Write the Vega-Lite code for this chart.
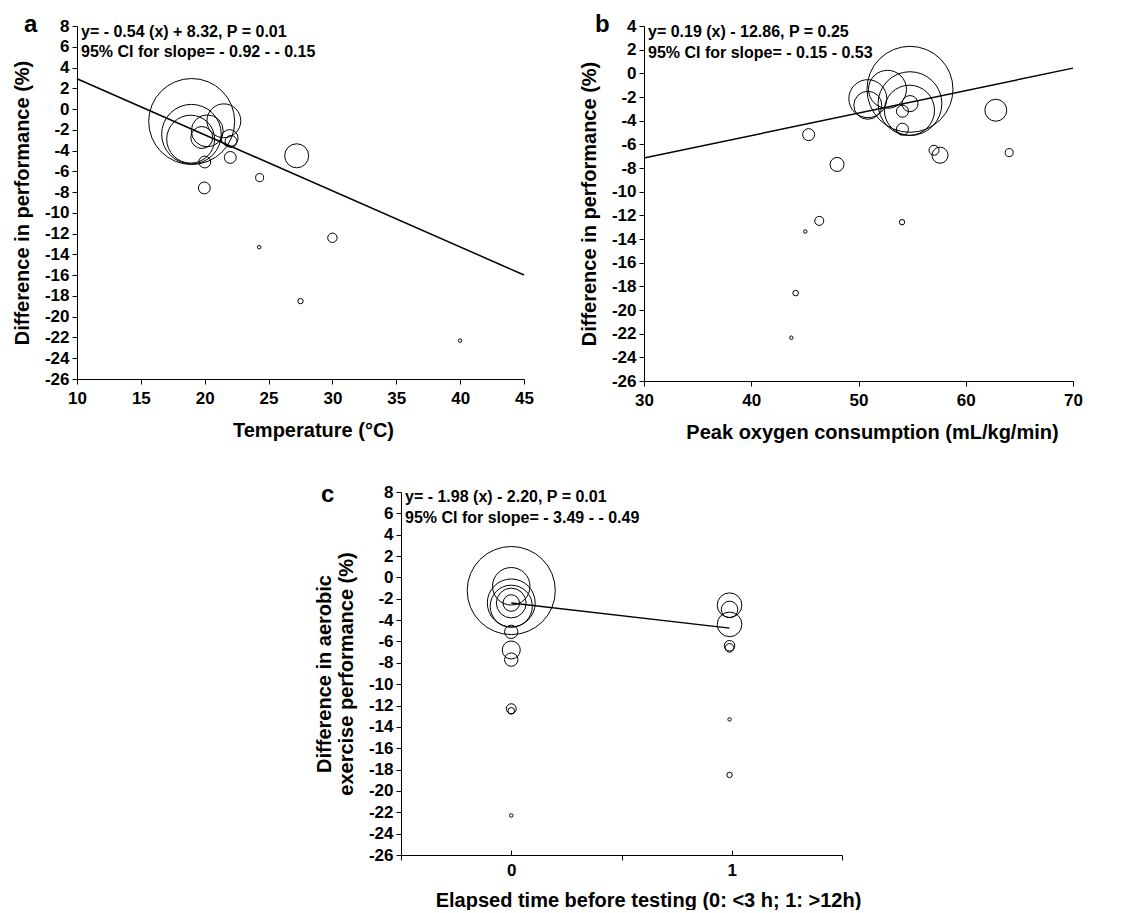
{
  "$schema": "https://vega.github.io/schema/vega-lite/v6.json",
  "background": "white",
  "padding": {"left": 12, "top": 13, "right": 5, "bottom": 0},
  "spacing": 41,
  "vconcat": [
    {
      "spacing": 45,
      "hconcat": [
        {
          "width": 447,
          "height": 353,
          "title": {"text": "a", "anchor": "start", "frame": "group", "dx": -53, "offset": -20, "fontSize": 24, "fontWeight": "bold", "font": "Liberation Sans", "color": "black"},
          "encoding": {
            "x": {"field": "x", "type": "quantitative", "scale": {"domain": [10, 45], "nice": false, "zero": false},
                  "axis": {"title": "Temperature (°C)", "values": [10, 15, 20, 25, 30, 35, 40, 45], "titleX": 236}},
            "y": {"field": "y", "type": "quantitative", "scale": {"domain": [-26, 8], "nice": false, "zero": false},
                  "axis": {"title": "Difference in performance (%)", "values": [-26, -24, -22, -20, -18, -16, -14, -12, -10, -8, -6, -4, -2, 0, 2, 4, 6, 8],
                           "labelExpr": "replace(datum.label, '−', '-')"}}
          },
          "layer": [
            {
              "data": {"values": [
                {"x": 18.98, "y": -1.2, "w": 100},
                {"x": 18.96, "y": -2.42, "w": 48},
                {"x": 18.9, "y": -2.9, "w": 31},
                {"x": 20.2, "y": -2.1, "w": 13.8},
                {"x": 19.77, "y": -2.74, "w": 6.5},
                {"x": 21.5, "y": -1.13, "w": 15.5},
                {"x": 21.95, "y": -2.8, "w": 3.9},
                {"x": 22.06, "y": -3.12, "w": 1.9},
                {"x": 20.0, "y": -5.1, "w": 1.9},
                {"x": 22.0, "y": -4.66, "w": 1.9},
                {"x": 27.2, "y": -4.5, "w": 7.8},
                {"x": 24.3, "y": -6.6, "w": 0.87},
                {"x": 19.97, "y": -7.6, "w": 1.9},
                {"x": 24.27, "y": -13.3, "w": 0.16},
                {"x": 30.0, "y": -12.4, "w": 1.2},
                {"x": 27.5, "y": -18.5, "w": 0.39},
                {"x": 40.0, "y": -22.3, "w": 0.16}
              ]},
              "mark": {"type": "point", "filled": false, "stroke": "black", "strokeWidth": 1, "opacity": 1},
              "encoding": {"size": {"field": "w", "type": "quantitative", "scale": {"domain": [0, 100], "range": [0, 7396]}, "legend": null}}
            },
            {
              "data": {"values": [{"x": 10, "y": 2.92}, {"x": 45, "y": -15.98}]},
              "mark": {"type": "line", "stroke": "black", "strokeWidth": 1.5},
              "encoding": {}
            },
            {
              "data": {"values": [
                {"x": 10, "y": 7.4, "label": "y= - 0.54 (x) + 8.32, P = 0.01"},
                {"x": 10, "y": 5.5, "label": "95% CI for slope= - 0.92 - - 0.15"}
              ]},
              "mark": {"type": "text", "align": "left", "baseline": "middle", "dx": 4, "fontSize": 16, "fontWeight": "bold", "font": "Liberation Sans", "color": "black"},
              "encoding": {"text": {"field": "label", "type": "nominal"}}
            }
          ]
        },
        {
          "width": 429,
          "height": 355,
          "title": {"text": "b", "anchor": "start", "frame": "group", "dx": -49, "offset": -20, "fontSize": 24, "fontWeight": "bold", "font": "Liberation Sans", "color": "black"},
          "encoding": {
            "x": {"field": "x", "type": "quantitative", "scale": {"domain": [30, 70], "nice": false, "zero": false},
                  "axis": {"title": "Peak oxygen consumption (mL/kg/min)", "values": [30, 40, 50, 60, 70], "titleX": 228}},
            "y": {"field": "y", "type": "quantitative", "scale": {"domain": [-26, 4], "nice": false, "zero": false},
                  "axis": {"title": "Difference in performance (%)", "values": [-26, -24, -22, -20, -18, -16, -14, -12, -10, -8, -6, -4, -2, 0, 2, 4],
                           "labelExpr": "replace(datum.label, '−', '-')"}}
          },
          "layer": [
            {
              "data": {"values": [
                {"x": 54.8, "y": -1.35, "w": 100},
                {"x": 52.7, "y": -1.35, "w": 19.5},
                {"x": 54.8, "y": -2.56, "w": 55},
                {"x": 54.75, "y": -3.12, "w": 34},
                {"x": 54.8, "y": -2.56, "w": 3.5},
                {"x": 54.1, "y": -3.2, "w": 1.95},
                {"x": 54.1, "y": -4.72, "w": 1.95},
                {"x": 50.87, "y": -2.14, "w": 19.5},
                {"x": 50.87, "y": -2.7, "w": 10.6},
                {"x": 62.8, "y": -3.12, "w": 6.5},
                {"x": 45.35, "y": -5.18, "w": 1.95},
                {"x": 57.04, "y": -6.5, "w": 1.35},
                {"x": 57.6, "y": -6.92, "w": 3.5},
                {"x": 64.05, "y": -6.7, "w": 0.87},
                {"x": 48.0, "y": -7.7, "w": 2.65},
                {"x": 46.34, "y": -12.47, "w": 1.1},
                {"x": 54.06, "y": -12.58, "w": 0.39},
                {"x": 45.04, "y": -13.37, "w": 0.16},
                {"x": 44.14, "y": -18.57, "w": 0.42},
                {"x": 43.74, "y": -22.34, "w": 0.16}
              ]},
              "mark": {"type": "point", "filled": false, "stroke": "black", "strokeWidth": 1, "opacity": 1},
              "encoding": {"size": {"field": "w", "type": "quantitative", "scale": {"domain": [0, 100], "range": [0, 7396]}, "legend": null}}
            },
            {
              "data": {"values": [{"x": 30, "y": -7.16}, {"x": 70, "y": 0.44}]},
              "mark": {"type": "line", "stroke": "black", "strokeWidth": 1.5},
              "encoding": {}
            },
            {
              "data": {"values": [
                {"x": 30, "y": 3.5, "label": "y= 0.19 (x) - 12.86, P = 0.25"},
                {"x": 30, "y": 1.75, "label": "95% CI for slope= - 0.15 - 0.53"}
              ]},
              "mark": {"type": "text", "align": "left", "baseline": "middle", "dx": 4, "fontSize": 16, "fontWeight": "bold", "font": "Liberation Sans", "color": "black"},
              "encoding": {"text": {"field": "label", "type": "nominal"}}
            }
          ]
        }
      ]
    },
    {
      "spacing": 0,
      "hconcat": [
        {
          "width": 237,
          "height": 10,
          "data": {"values": []},
          "mark": "point",
          "encoding": {}
        },
        {
          "width": 441,
          "height": 363,
          "title": {"text": "c", "anchor": "start", "frame": "group", "dx": -80, "offset": -24, "fontSize": 24, "fontWeight": "bold", "font": "Liberation Sans", "color": "black"},
          "encoding": {
            "x": {"field": "x", "type": "quantitative", "scale": {"domain": [-0.5, 1.5], "nice": false, "zero": false},
                  "axis": {"title": "Elapsed time before testing  (0: <3 h; 1: >12h)", "values": [-0.5, 0, 0.5, 1, 1.5],
                           "labelExpr": "(datum.value === 0 || datum.value === 1) ? format(datum.value, 'd') : ''",
                           "tickSize": {"condition": {"test": "datum.value === 0 || datum.value === 1", "value": -5}, "value": 5},
                           "labelPadding": 12, "titlePadding": 2, "titleX": 247}},
            "y": {"field": "y", "type": "quantitative", "scale": {"domain": [-26, 8], "nice": false, "zero": false},
                  "axis": {"title": ["Difference in aerobic", "exercise performance (%)"], "values": [-26, -24, -22, -20, -18, -16, -14, -12, -10, -8, -6, -4, -2, 0, 2, 4, 6, 8],
                           "labelExpr": "replace(datum.label, '−', '-')"}}
          },
          "layer": [
            {
              "data": {"values": [
                {"x": 0, "y": -1.23, "w": 105},
                {"x": 0, "y": -0.83, "w": 19},
                {"x": 0, "y": -2.39, "w": 31},
                {"x": 0, "y": -2.7, "w": 24},
                {"x": 0, "y": -2.4, "w": 12},
                {"x": 0, "y": -2.4, "w": 3.7},
                {"x": 0, "y": -5.1, "w": 2.4},
                {"x": 0, "y": -6.8, "w": 4.4},
                {"x": 0, "y": -7.7, "w": 2.4},
                {"x": 0, "y": -12.3, "w": 1.35},
                {"x": 0, "y": -12.5, "w": 0.6},
                {"x": 0, "y": -22.3, "w": 0.16},
                {"x": 0.99, "y": -2.6, "w": 8.2},
                {"x": 0.99, "y": -3.0, "w": 3.7},
                {"x": 0.99, "y": -4.4, "w": 8.2},
                {"x": 0.99, "y": -6.4, "w": 1.5},
                {"x": 0.99, "y": -6.6, "w": 1.0},
                {"x": 0.99, "y": -13.3, "w": 0.16},
                {"x": 0.99, "y": -18.5, "w": 0.39}
              ]},
              "mark": {"type": "point", "filled": false, "stroke": "black", "strokeWidth": 1, "opacity": 1},
              "encoding": {"size": {"field": "w", "type": "quantitative", "scale": {"domain": [0, 100], "range": [0, 7396]}, "legend": null}}
            },
            {
              "data": {"values": [{"x": 0, "y": -2.4}, {"x": 0.99, "y": -4.75}]},
              "mark": {"type": "line", "stroke": "black", "strokeWidth": 1.5},
              "encoding": {}
            },
            {
              "data": {"values": [
                {"x": -0.5, "y": 7.5, "label": "y= - 1.98 (x) - 2.20, P = 0.01"},
                {"x": -0.5, "y": 5.6, "label": "95% CI for slope= - 3.49 - - 0.49"}
              ]},
              "mark": {"type": "text", "align": "left", "baseline": "middle", "dx": 4, "fontSize": 16, "fontWeight": "bold", "font": "Liberation Sans", "color": "black"},
              "encoding": {"text": {"field": "label", "type": "nominal"}}
            }
          ]
        }
      ]
    }
  ],
  "config": {
    "view": {"stroke": null},
    "font": "Liberation Sans",
    "axis": {
      "grid": false,
      "domainColor": "black",
      "domainWidth": 1,
      "tickColor": "black",
      "tickWidth": 1,
      "tickSize": 5,
      "labelFont": "Liberation Sans",
      "labelFontSize": 17,
      "labelFontWeight": "bold",
      "labelColor": "black",
      "labelFlush": false,
      "labelOverlap": false,
      "titleFont": "Liberation Sans",
      "titleFontSize": 20,
      "titleFontWeight": "bold",
      "titleColor": "black"
    },
    "axisX": {"labelPadding": 6, "titlePadding": 14},
    "axisY": {"labelPadding": 3, "titlePadding": 12}
  }
}
